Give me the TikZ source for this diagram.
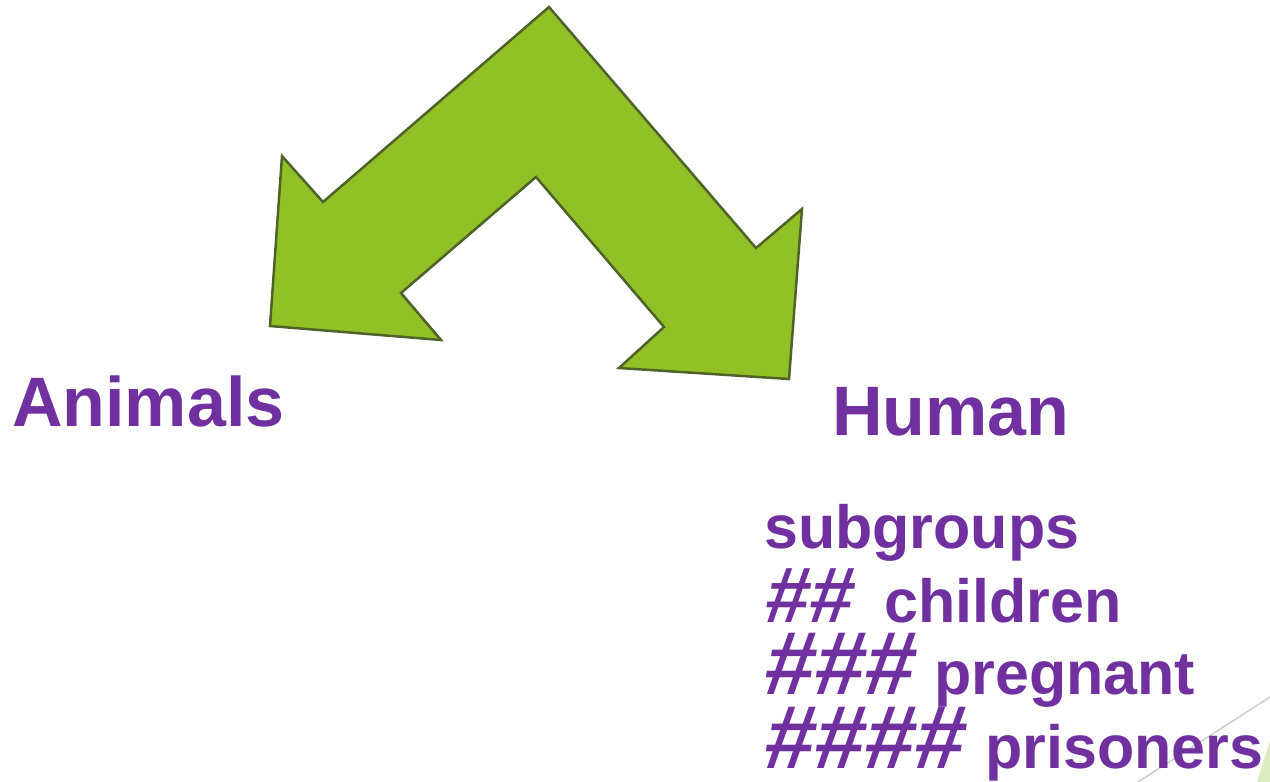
\documentclass[tikz,border=0pt]{standalone}
\usepackage{fontspec}
\setmainfont{Liberation Sans}
\newfontfamily\hashfont[FakeSlant=0.14]{Liberation Sans Bold}
\definecolor{txtpurple}{RGB}{112,48,160}
\definecolor{arrowfill}{RGB}{145,193,38}
\definecolor{arrowedge}{RGB}{79,98,40}
\definecolor{decoline}{RGB}{205,205,205}
\definecolor{decogreen}{RGB}{221,236,192}
\tikzset{
  label/.style={inner sep=0pt, anchor=base west, text=txtpurple, font=\bfseries},
  big/.style={label, font=\bfseries\fontsize{70}{70}\selectfont},
  item/.style={label, font=\bfseries\fontsize{61}{61}\selectfont},
  hashes/.style={label, font=\hashfont\fontsize{#1}{#1}\selectfont},
}
\begin{document}
\begin{tikzpicture}[x=1pt, y=-1pt]
  \useasboundingbox (0,0) rectangle (1270,782);
  % slide decoration in the corner
  \fill[decogreen] (1257,782) -- (1270,740) -- (1270,782) -- cycle;
  \draw[decoline, line width=1.5pt] (1138,782) -- (1270,697);
  % split arrow
  \draw[arrowedge, fill=arrowfill, line width=2.5pt, line join=miter]
    (549,7) -- (756,248) -- (802,209) -- (789,379) -- (619,368) -- (664,327)
    -- (536,177) -- (401,293) -- (441,340) -- (270,326) -- (282,156)
    -- (323,202) -- cycle;
  % headings
  \node[big] (animals) at (12,426) {Animals};
  \node[big] (human) at (832,435) {Human};
  % list
  \node[item] (subgroups) at (764,548) {subgroups};
  \node[hashes=79] (h2) at (763,622) {\#\#};
  \node[item] (children) at (884,622) {children};
  \node[hashes=90] (h3) at (762,694) {\#\#\#};
  \node[item] (pregnant) at (934,694) {pregnant};
  \node[hashes=90] (h4) at (762,768) {\#\#\#\#};
  \node[item] (prisoners) at (985,768) {prisoners};
\end{tikzpicture}
\end{document}
